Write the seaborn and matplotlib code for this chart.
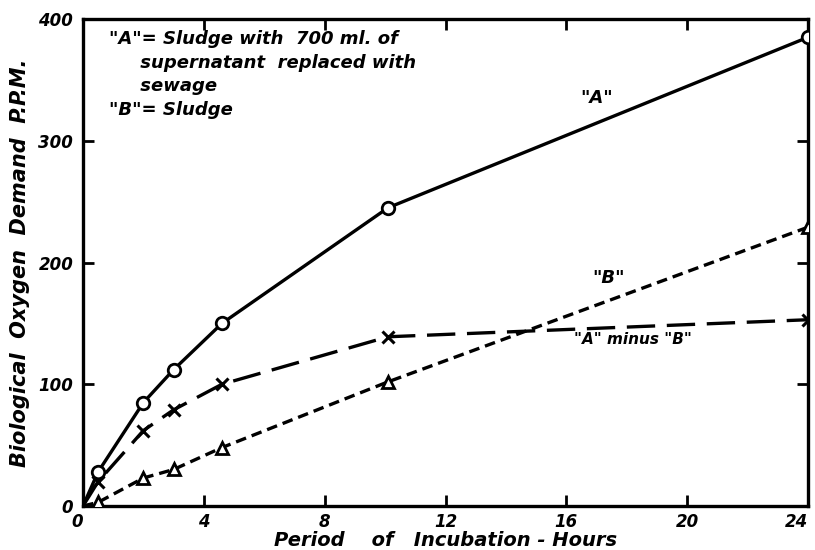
import matplotlib
matplotlib.use("Agg")
import matplotlib.pyplot as plt
import seaborn as sns
import pandas as pd

# Data
hours = [0, 0.5, 2, 3, 4.6, 10.1, 24]
bod_A = [0, 28, 85, 112, 150, 245, 385]
bod_B = [0, 3, 23, 30, 48, 102, 229]
bod_A_minus_B = [0, 20, 62, 79, 100, 139, 153]

x_ticks = [0, 4, 8, 12, 16, 20, 24]
y_ticks = [0, 100, 200, 300, 400]

sns.set_theme(style="ticks")
plt.rcParams["font.family"] = ["DejaVu Sans"]
plt.rcParams["text.color"] = "black"
plt.rcParams["axes.labelcolor"] = "black"
plt.rcParams["xtick.color"] = "black"
plt.rcParams["ytick.color"] = "black"

fig = plt.figure(figsize=(8.15, 5.5), dpi=100)
ax = fig.add_axes([83 / 815, 1 - 506 / 550, (808 - 83) / 815, (506 - 19) / 550])

df = pd.DataFrame({"hours": hours, "A": bod_A, "B": bod_B, "AB": bod_A_minus_B})
mk = list(range(1, len(hours)))

sns.lineplot(data=df, x="hours", y="A", ax=ax, color="black", lw=2.4,
             marker="o", markersize=9, markerfacecolor="white",
             markeredgecolor="black", markeredgewidth=2, markevery=mk, zorder=3)
sns.lineplot(data=df, x="hours", y="B", ax=ax, color="black", lw=2.4,
             linestyle=(0, (3.2, 1.8)),
             marker="^", markersize=9, markerfacecolor="white",
             markeredgecolor="black", markeredgewidth=2, markevery=mk, zorder=3)
sns.lineplot(data=df, x="hours", y="AB", ax=ax, color="black", lw=2.4,
             linestyle=(0, (8.5, 3.5)),
             marker="x", markersize=8, markeredgewidth=2.2,
             markeredgecolor="black", markevery=mk, zorder=3)

ax.set_xlim(0, 24)
ax.set_ylim(0, 400)
ax.set_xticks(x_ticks)
ax.set_yticks(y_ticks)
ax.set_xticklabels([str(v) for v in x_ticks])
ax.set_yticklabels([str(v) for v in y_ticks])

for s in ax.spines.values():
    s.set_visible(True)
    s.set_linewidth(2.4)
    s.set_color("black")

ax.tick_params(axis="both", which="both", direction="in", length=8, width=2,
               top=True, right=True, colors="black")
ax.tick_params(axis="x", pad=5)
ax.tick_params(axis="y", pad=7)
for lab in ax.get_xticklabels() + ax.get_yticklabels():
    lab.set_fontsize(12)
    lab.set_fontweight("bold")
    lab.set_fontstyle("italic")
ax.get_xticklabels()[-1].set_horizontalalignment("right")
ax.get_xticklabels()[0].set_horizontalalignment("right")

ax.set_xlabel("Period    of   Incubation - Hours", fontsize=14, fontweight="bold",
              fontstyle="italic", labelpad=0)
ax.set_ylabel("Biological  Oxygen  Demand  P.P.M.", fontsize=15, fontweight="bold",
              fontstyle="italic", labelpad=6)

ax.text(0.85, 391, '"A"= Sludge with  700 ml. of\n     supernatant  replaced with\n     sewage\n"B"= Sludge',
        fontsize=13, fontweight="bold", fontstyle="italic", va="top", ha="left",
        linespacing=1.4)
ax.text(17.0, 335, '"A"', fontsize=13, fontweight="bold", fontstyle="italic",
        ha="center", va="center")
ax.text(17.4, 187, '"B"', fontsize=13, fontweight="bold", fontstyle="italic",
        ha="center", va="center")
ax.text(18.2, 137, '"A" minus "B"', fontsize=11, fontweight="bold", fontstyle="italic",
        ha="center", va="center")

ax.grid(False)
ax.set_facecolor("white")
fig.patch.set_facecolor("white")
fig.savefig("out.png", dpi=100, facecolor="white")
